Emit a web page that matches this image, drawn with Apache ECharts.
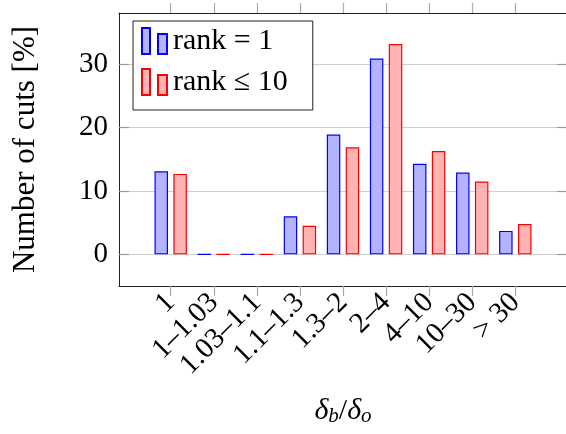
<!DOCTYPE html>
<html>
<head>
<meta charset="utf-8">
<script src="https://cdn.jsdelivr.net/npm/echarts@6/dist/echarts.min.js"></script>
<style>
  html, body { margin: 0; padding: 0; background: #fff; }
  #chart { width: 566px; height: 434px; }
</style>
</head>
<body>
<div id="chart"></div>
<script>
var categories = ['1', '1\u20131.03', '1.03\u20131.1', '1.1\u20131.3', '1.3\u20132', '2\u20134', '4\u201310', '10\u201330', '> 30']
var rank1 = [13.1, 0, 0, 6.0, 18.9, 30.9, 14.3, 12.9, 3.7]
var rank10 = [12.7, 0, 0, 4.5, 16.9, 33.2, 16.3, 11.5, 4.8]
var yTicks = [0, 10, 20, 30]

var font = 'Liberation Serif'
var catIdx = categories.map(function (c, i) { return i })

var chart = echarts.init(document.getElementById('chart'))

function pairs(arr) {
    return arr.map(function (v, i) { return [i, v] })
}

var xBase = {
    type: 'value',
    min: -1.2,
    max: 9.2,
    splitLine: { show: false },
    axisLine: { show: true, onZero: false, lineStyle: { color: '#222', width: 1 } },
    axisTick: { show: true, inside: false, length: 10, customValues: catIdx, lineStyle: { color: '#aaa', width: 1.2 } }
}
var yBase = {
    type: 'value',
    min: -5,
    max: 38.1,
    axisLine: { show: true, onZero: false, lineStyle: { color: '#222', width: 1 } },
    axisTick: { show: true, inside: true, length: 10, customValues: yTicks, lineStyle: { color: '#999', width: 1.2 } }
}

var option = {
    animation: false,
    backgroundColor: '#fff',
    grid: { left: 119, top: 13, width: 448, height: 273, containLabel: false, outerBoundsMode: 'none' },
    legend: {
        orient: 'vertical',
        left: 133,
        top: 21,
        padding: [5, 25, 13, 8],
        itemGap: 11,
        itemWidth: 25,
        itemHeight: 26,
        backgroundColor: '#fff',
        borderColor: '#222',
        borderWidth: 1,
        icon: 'path://M0,0H8V26H0Z M16,6H25V26H16Z',
        textStyle: { fontFamily: font, fontSize: 30, color: '#000', padding: [0, 0, 0, 1] },
        data: ['rank = 1', 'rank \u2264 10']
    },
    xAxis: [
        Object.assign({}, xBase, {
            position: 'bottom',
            name: '{d|\u03b4}{s|b}{n|/}{d|\u03b4}{s|o}',
            nameLocation: 'middle',
            nameGap: 110,
            nameTextStyle: {
                rich: {
                    d: { fontFamily: font, fontStyle: 'italic', fontSize: 30, color: '#000' },
                    n: { fontFamily: font, fontSize: 30, color: '#000' },
                    s: { fontFamily: font, fontStyle: 'italic', fontSize: 21, color: '#000', padding: [10, 0, 0, 0] }
                }
            },
            axisLabel: {
                show: true,
                customValues: catIdx,
                rotate: 45,
                margin: 12,
                fontFamily: font,
                fontSize: 29,
                color: '#000',
                formatter: function (v) { return categories[v] }
            }
        }),
        Object.assign({}, xBase, {
            position: 'top',
            axisLabel: { show: false }
        })
    ],
    yAxis: [
        Object.assign({}, yBase, {
            position: 'left',
            name: 'Number of cuts [%]',
            nameLocation: 'middle',
            nameGap: 78,
            nameTextStyle: { fontFamily: font, fontSize: 31, color: '#000' },
            splitLine: { show: true, lineStyle: { color: '#cfcfcf', width: 1.2 } },
            axisLabel: {
                show: true,
                customValues: yTicks,
                margin: 11,
                fontFamily: font,
                fontSize: 29,
                color: '#000'
            }
        }),
        Object.assign({}, yBase, {
            position: 'right',
            splitLine: { show: false },
            axisLabel: { show: false }
        })
    ],
    series: [
        {
            name: 'rank = 1',
            type: 'bar',
            xAxisIndex: 0,
            yAxisIndex: 0,
            barWidth: 13.5,
            barGap: '40%',
            itemStyle: { color: '#b3b3ff', borderColor: '#0000ff', borderWidth: 1.2 },
            data: pairs(rank1)
        },
        {
            name: 'rank \u2264 10',
            type: 'bar',
            xAxisIndex: 0,
            yAxisIndex: 0,
            barWidth: 13.5,
            barGap: '40%',
            itemStyle: { color: '#ffb3b3', borderColor: '#ff0000', borderWidth: 1.2 },
            data: pairs(rank10)
        }
    ]
}
chart.setOption(option)
</script>
</body>
</html>
